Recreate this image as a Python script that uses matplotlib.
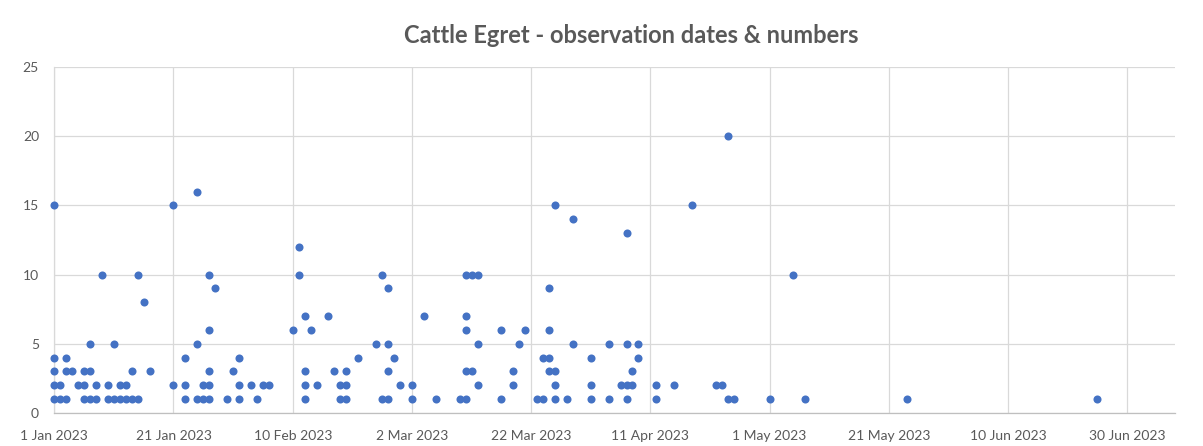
import numpy as np
import pandas as pd
import matplotlib
matplotlib.use('Agg')
import matplotlib.pyplot as plt
import matplotlib.dates as mdates

# observation dates and the bird counts seen on each of them
obs_dates = [
    '2023-01-01', '2023-01-02', '2023-01-03', '2023-01-04', '2023-01-05',
    '2023-01-06', '2023-01-07', '2023-01-08', '2023-01-09', '2023-01-10',
    '2023-01-11', '2023-01-12', '2023-01-13', '2023-01-14', '2023-01-15',
    '2023-01-16', '2023-01-17', '2023-01-21', '2023-01-23', '2023-01-25',
    '2023-01-26', '2023-01-27', '2023-01-28', '2023-01-30', '2023-01-31',
    '2023-02-01', '2023-02-03', '2023-02-04', '2023-02-05', '2023-02-06',
    '2023-02-10', '2023-02-11', '2023-02-12', '2023-02-13', '2023-02-14',
    '2023-02-16', '2023-02-17', '2023-02-18', '2023-02-19', '2023-02-21',
    '2023-02-24', '2023-02-25', '2023-02-26', '2023-02-27', '2023-02-28',
    '2023-03-02', '2023-03-04', '2023-03-06', '2023-03-10', '2023-03-11',
    '2023-03-12', '2023-03-13', '2023-03-17', '2023-03-19', '2023-03-20',
    '2023-03-21', '2023-03-23', '2023-03-24', '2023-03-25', '2023-03-26',
    '2023-03-28', '2023-03-29', '2023-04-01', '2023-04-04', '2023-04-06',
    '2023-04-07', '2023-04-08', '2023-04-09', '2023-04-12', '2023-04-15',
    '2023-04-18', '2023-04-22', '2023-04-23', '2023-04-24', '2023-04-25',
    '2023-05-01', '2023-05-05', '2023-05-07', '2023-05-24', '2023-06-25',
]
obs_counts = [
    [1, 2, 3, 4, 15], [1, 2], [1, 3, 4], [3], [2],
    [1, 2, 3], [1, 3, 5], [1, 2], [10], [1, 2],
    [1, 5], [1, 2], [1, 2], [1, 3], [1, 10],
    [8], [3], [2, 15], [1, 2, 4], [1, 5, 16],
    [1, 2], [1, 2, 3, 6, 10], [9], [1], [3],
    [1, 2, 4], [2], [1], [2], [2],
    [6], [10, 12], [1, 2, 3, 7], [6], [2],
    [7], [3], [1, 2], [1, 2, 3], [4],
    [5], [1, 10], [1, 3, 5, 9], [4], [2],
    [1, 2], [7], [1], [1], [1, 3, 6, 7, 10],
    [3, 10], [2, 5, 10], [1, 6], [2, 3], [5],
    [6], [1], [1, 4], [3, 4, 6, 9], [1, 2, 3, 15],
    [1], [5, 14], [1, 2, 4], [1, 5], [2],
    [1, 2, 5, 13], [2, 3], [4, 5], [1, 2], [2],
    [15], [2], [2], [1, 20], [1],
    [1], [10], [1], [1], [1],
]

axis_start = '2023-01-01'
axis_end = '2023-07-08'
y_max = 25

# flatten into one point per sighting
xs = []
ys = []
for day, counts in zip(obs_dates, obs_counts):
    for c in counts:
        xs.append(pd.Timestamp(day))
        ys.append(c)

label_color = '#595959'
grid_color = '#D9D9D9'

fig = plt.figure(figsize=(12.03, 4.46), dpi=100)
ax = fig.add_axes([0.0451, 0.074, 0.9316, 0.7758])

ax.plot(xs, ys, linestyle='none', marker='o', markersize=5.8,
        color='#4472C4', markeredgewidth=0, zorder=3, clip_on=False)

ax.set_xlim(pd.Timestamp(axis_start), pd.Timestamp(axis_end))
ax.set_ylim(0, y_max)

ticks = pd.date_range(axis_start, periods=10, freq='20D')
ax.set_xticks(ticks)
ax.xaxis.set_major_formatter(mdates.DateFormatter('%-d %b %Y'))
ax.set_yticks(np.arange(0, y_max + 1, 5))

ax.grid(True, color=grid_color, linewidth=0.9)
ax.set_axisbelow(True)
for side in ['top', 'right']:
    ax.spines[side].set_visible(False)
ax.spines['left'].set_color(grid_color)
ax.spines['bottom'].set_color('#BFBFBF')
ax.spines['left'].set_linewidth(0.9)
ax.spines['bottom'].set_linewidth(0.9)

ax.tick_params(axis='both', length=0, labelcolor=label_color, labelsize=10)
ax.tick_params(axis='x', pad=12)
ax.tick_params(axis='y', pad=11)
for lbl in ax.get_xticklabels() + ax.get_yticklabels():
    lbl.set_family('Lato')

fig.text(0.5245, 0.92, 'Cattle Egret - observation dates & numbers',
         ha='center', va='center', fontsize=17, fontweight='bold',
         color=label_color, family='Lato')

fig.savefig('out.png', dpi=100)
